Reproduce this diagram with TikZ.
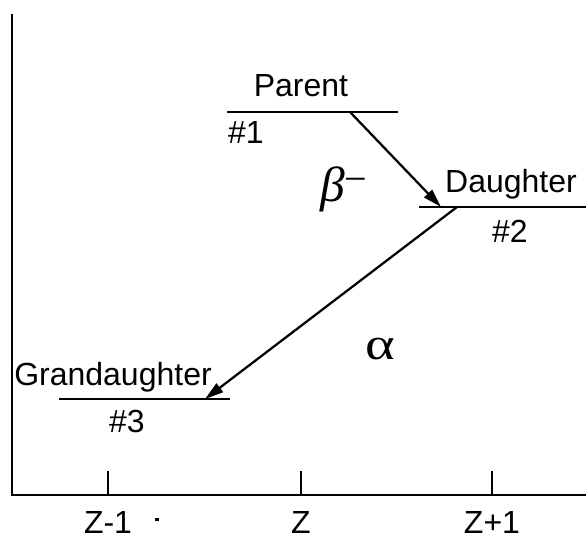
\documentclass[tikz,border=0pt]{standalone}
\usepackage{fontspec}
\setmainfont{Liberation Sans}
\newfontfamily\greekfont{Liberation Serif}
\usetikzlibrary{arrows.meta}

\begin{document}
\begin{tikzpicture}[x=0.75pt, y=-0.75pt, line width=2pt,
    every node/.style={font=\fontsize{24}{28}\selectfont, inner sep=0pt},
    level/.style={line width=2pt},
    lbl/.style={anchor=base},
    decay/.style={line width=1.7pt, -{Triangle[length=14pt, width=8pt]}}]
  \useasboundingbox (0,0) rectangle (586,540);

  % axes
  \coordinate (origin) at (12,495);
  \coordinate (ytop) at (12,14);
  \coordinate (xend) at (586,495);
  \draw (ytop) -- (origin) -- (xend);
  \foreach \x/\z in {108/Z-1, 301/Z, 492/Z+1} {
    \draw (\x,471) -- (\x,495);
    \node[lbl] at (\x,533) {\z};
  }
  \fill (155,518) rectangle (159,521);

  % levels
  \draw[level] (227,112) -- (398,112);
  \draw[level] (419,207) -- (586,207);
  \draw[level] (59,399) -- (230,399);

  \node[lbl] (parent) at (301,96) {Parent};
  \node[lbl] (n1) at (246,143) {\#1};
  \node[lbl] (daughter) at (511,192) {Daughter};
  \node[lbl] (n2) at (510,242) {\#2};
  \node[lbl] (grand) at (113,385) {Grandaughter};
  \node[lbl] (n3) at (127,432) {\#3};

  % decays
  \coordinate (p1) at (350,112);
  \coordinate (d0) at (441,207);
  \coordinate (d1) at (457,207);
  \coordinate (g0) at (205,399);
  \draw[decay] (p1) -- (d0);
  \draw[decay] (d1) -- (g0);

  \node[font=\fontsize{37}{40}\selectfont\greekfont\itshape, anchor=base] (beta) at (333,201) {β};
  \node[font=\fontsize{30}{34}\selectfont\greekfont, anchor=base] (minus) at (356,192) {−};
  \node[font=\fontsize{34}{38}\selectfont\greekfont, xscale=1.25] (alpha) at (380,349) {α};
\end{tikzpicture}
\end{document}
